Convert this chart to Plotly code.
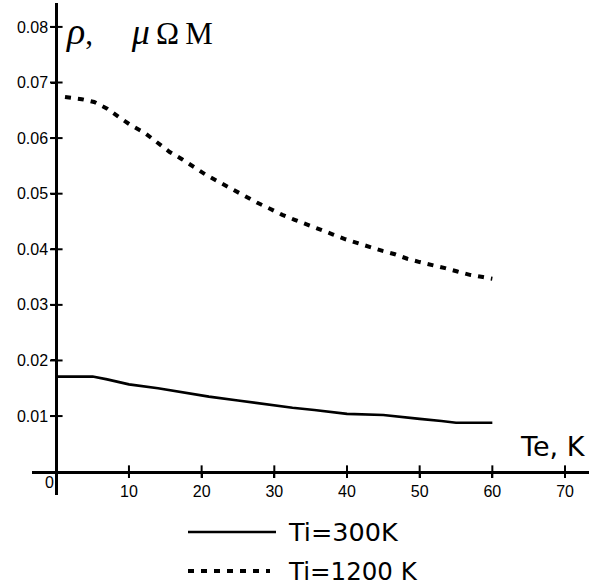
import plotly.graph_objects as go

# Data
te_300 = [0, 5, 7, 10, 14, 17.5, 21, 25, 29, 32.5, 35.5, 40, 45, 47.5, 50, 53, 55, 60]
rho_300 = [0.0171, 0.0171, 0.0166, 0.0157, 0.0150, 0.0142, 0.0135, 0.0128, 0.0121,
           0.0115, 0.0111, 0.0104, 0.0102, 0.0098, 0.0095, 0.0091, 0.0088, 0.0088]

te_1200 = [1.2, 3.5, 5.2, 7.0, 8.7, 10.4, 12.1, 13.9, 15.6, 17.3, 19.0, 20.7, 22.4, 24.2,
           25.9, 27.6, 29.4, 31.1, 32.8, 34.5, 36.2, 38.0, 39.8, 41.4, 43.2, 44.9, 46.6,
           48.3, 50.0, 51.8, 53.5, 55.2, 56.9, 58.7, 60.0]
rho_1200 = [0.0674, 0.0670, 0.0665, 0.0653, 0.0637, 0.0622, 0.0610, 0.0593, 0.0575, 0.0562,
            0.0547, 0.0533, 0.0521, 0.0508, 0.0496, 0.0484, 0.0473, 0.0462, 0.0453, 0.0445,
            0.0436, 0.0427, 0.0418, 0.0411, 0.0404, 0.0397, 0.0391, 0.0383, 0.0377, 0.0372,
            0.0366, 0.0360, 0.0354, 0.0350, 0.0347]

x_ticks = [10, 20, 30, 40, 50, 60, 70]
y_ticks = [0.01, 0.02, 0.03, 0.04, 0.05, 0.06, 0.07, 0.08]
y_tick_labels = ["0.01", "0.02", "0.03", "0.04", "0.05", "0.06", "0.07", "0.08"]
legend_names = ["Ti=300K", "Ti=1200 K"]

x_range = [-3.34, 73.3]
y_range = [-0.0042, 0.0843]

W, H = 606, 588
ML, MR, MT, MB = 32, 17, 3, 93
pw = W - ML - MR
ph = H - MT - MB

def px2paper(xp, yp):
    return (xp - ML) / pw, (H - MB - yp) / ph

DASH = "6px,7px"
SANS = "Liberation Sans, Arial"
WIDE = "DejaVu Sans"
THIN = "\u2009"

fig = go.Figure()
fig.add_trace(go.Scatter(x=te_300, y=rho_300, mode="lines",
                         line=dict(color="black", width=2.6), name=legend_names[0],
                         showlegend=False))
fig.add_trace(go.Scatter(x=te_1200, y=rho_1200, mode="lines",
                         line=dict(color="black", width=4, dash=DASH), name=legend_names[1],
                         showlegend=False))
# crossing tick marks
fig.add_trace(go.Scatter(x=x_ticks, y=[0] * len(x_ticks), mode="markers",
                         marker=dict(symbol="line-ns", size=9, line=dict(color="black", width=2)),
                         showlegend=False, hoverinfo="skip", cliponaxis=False))
fig.add_trace(go.Scatter(x=[0] * len(y_ticks), y=y_ticks, mode="markers",
                         marker=dict(symbol="line-ew", size=9, line=dict(color="black", width=2)),
                         showlegend=False, hoverinfo="skip", cliponaxis=False))

xpos = (0 - y_range[0]) / (y_range[1] - y_range[0])
ypos = (0 - x_range[0]) / (x_range[1] - x_range[0])

fig.update_layout(
    width=W, height=H,
    margin=dict(l=ML, r=MR, t=MT, b=MB),
    paper_bgcolor="white", plot_bgcolor="white",
    font=dict(family=SANS, color="black"),
    xaxis=dict(range=x_range, anchor="free", position=xpos, showline=True,
               linecolor="black", linewidth=3, showgrid=False, zeroline=False,
               tickvals=x_ticks, ticktext=[str(v) for v in x_ticks],
               ticks="outside", ticklen=4, tickwidth=2, tickcolor="black",
               tickfont=dict(size=16, family=SANS)),
    yaxis=dict(range=y_range, anchor="free", position=ypos, showline=True,
               linecolor="black", linewidth=3, showgrid=False, zeroline=False,
               tickvals=y_ticks, ticktext=y_tick_labels,
               ticks="outside", ticklen=4, tickwidth=2, tickcolor="black",
               tickfont=dict(size=16, family=SANS)),
    showlegend=False,
)

# axis titles
fig.add_annotation(x=1.0, y=0.0792, xref="x", yref="y", xanchor="left", yanchor="middle",
                   text=("<span style='font-size:38px'><i>ρ</i></span>,"
                         "&nbsp;&nbsp;&nbsp;&nbsp;&nbsp;<span style='font-size:36px'><i>μ</i></span>"
                         + THIN + "Ω" + THIN + "M"),
                   showarrow=False,
                   font=dict(family="Liberation Serif, Times New Roman", size=31))
fig.add_annotation(x=73.2, y=0.0046, xref="x", yref="y", xanchor="right", yanchor="middle",
                   text="Te, K", showarrow=False,
                   font=dict(family=WIDE, size=27))
fig.add_annotation(x=-0.95, y=-0.0019, xref="x", yref="y", xanchor="center", yanchor="middle",
                   text="0", showarrow=False,
                   font=dict(family=SANS, size=16))

# legend (drawn manually)
x0, y1 = px2paper(188, 532)
x1, _ = px2paper(276, 532)
_, y2 = px2paper(0, 571)
x1b, _ = px2paper(270, 571)
xt, _ = px2paper(286, 0)
fig.add_shape(type="line", xref="paper", yref="paper", x0=x0, x1=x1, y0=y1, y1=y1,
              line=dict(color="black", width=2.6))
fig.add_shape(type="line", xref="paper", yref="paper", x0=x0, x1=x1b, y0=y2, y1=y2,
              line=dict(color="black", width=4, dash=DASH))
fig.add_annotation(x=xt, y=y1, xref="paper", yref="paper", xanchor="left", yanchor="middle",
                   text=legend_names[0], showarrow=False,
                   font=dict(family=WIDE, size=25.5))
fig.add_annotation(x=xt, y=y2, xref="paper", yref="paper", xanchor="left", yanchor="middle",
                   text=legend_names[1], showarrow=False,
                   font=dict(family=WIDE, size=24.5))

fig.write_html("out.html", config={"displayModeBar": False},
               post_script="document.body.style.margin='0px';")
